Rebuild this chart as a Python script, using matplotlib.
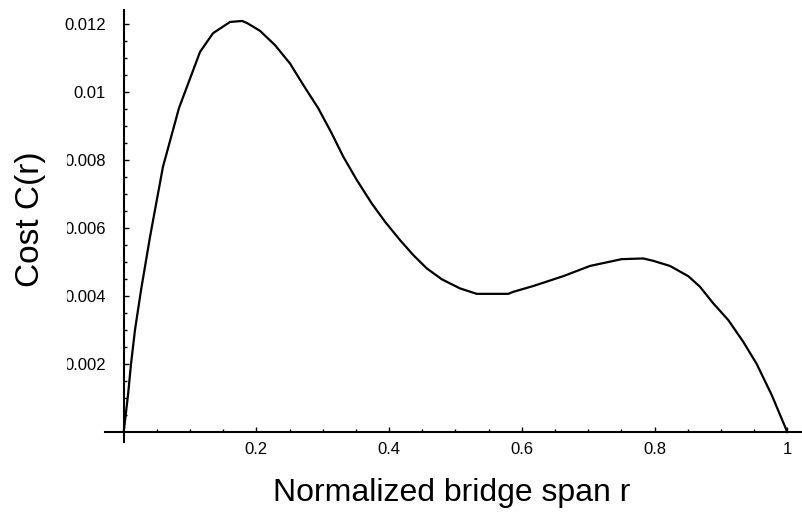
import matplotlib
matplotlib.use("Agg")
import matplotlib.pyplot as plt
from matplotlib.transforms import Bbox, TransformedBbox, IdentityTransform

plt.rcParams['font.family'] = ['Liberation Sans', 'DejaVu Sans']

# Data
r = [0.0, 0.0065, 0.0110, 0.0170, 0.0261, 0.0396, 0.0591, 0.0833, 0.1150, 0.1346,
     0.1602, 0.1783, 0.1858, 0.2054, 0.2280, 0.2506, 0.2706, 0.2933, 0.3134, 0.3309,
     0.3511, 0.3737, 0.3938, 0.4164, 0.4364, 0.4566, 0.4792, 0.5068, 0.5320, 0.5796,
     0.5871, 0.6172, 0.6624, 0.7027, 0.7504, 0.7830, 0.7981, 0.8232, 0.8508, 0.8684,
     0.8885, 0.9111, 0.9337, 0.9539, 0.9765, 1.0]
cost = [0.0, 0.00109, 0.00200, 0.00300, 0.00417, 0.00573, 0.00779, 0.00952, 0.01117, 0.01172,
        0.01205, 0.01208, 0.01202, 0.01179, 0.01137, 0.01083, 0.01020, 0.00951, 0.00878, 0.00809,
        0.00741, 0.00672, 0.00618, 0.00564, 0.00520, 0.00481, 0.00449, 0.00422, 0.00406, 0.00406,
        0.00412, 0.00429, 0.00458, 0.00488, 0.00508, 0.00510, 0.00503, 0.00488, 0.00458, 0.00427,
        0.00378, 0.00329, 0.00265, 0.00200, 0.00109, 0.0]

x_ticks = [0.2, 0.4, 0.6, 0.8, 1.0]
x_tick_labels = ['0.2', '0.4', '0.6', '0.8', '1']
x_minor = [0.05, 0.1, 0.15, 0.25, 0.3, 0.35, 0.45, 0.5, 0.55, 0.65, 0.7, 0.75, 0.85, 0.9, 0.95]
y_ticks = [0.002, 0.004, 0.006, 0.008, 0.010, 0.012]
y_tick_labels = ['0.002', '0.004', '0.006', '0.008', '0.01', '0.012']
y_minor = [0.0005 * k for k in range(1, 25) if k % 4 != 0]

fig = plt.figure(figsize=(8.02, 5.19), dpi=100)
ax = fig.add_axes([105 / 802, 77 / 519, 697 / 802, 432 / 519])

ax.plot(r, cost, color='black', lw=1.6, solid_joinstyle='round')

ax.set_xlim(-0.0282, 1.0222)
ax.set_ylim(-0.000294, 0.012402)

for s in ['top', 'right']:
    ax.spines[s].set_visible(False)
for s in ['left', 'bottom']:
    ax.spines[s].set_position(('data', 0))
    ax.spines[s].set_linewidth(1.5)

ax.set_xticks(x_ticks)
ax.set_xticklabels(x_tick_labels)
ax.set_xticks(x_minor, minor=True)
ax.set_yticks(y_ticks)
ax.set_yticklabels(y_tick_labels)
ax.set_yticks(y_minor, minor=True)

ax.tick_params(which='both', direction='in', color='black', width=1.0, labelsize=12)
ax.tick_params(which='major', length=3.5)
ax.tick_params(which='minor', length=2.2)
ax.tick_params(axis='x', which='major', pad=7.5)
ax.tick_params(axis='y', which='major', pad=13)

# reference crops the left part of the lower y tick labels
clip = TransformedBbox(Bbox([[67, 0], [802, 519]]), IdentityTransform())
for lbl in ax.get_yticklabels():
    if lbl.get_text() in ('0.002', '0.004', '0.006', '0.008'):
        lbl.set_clip_on(True)
        lbl.set_clip_box(clip)

fig.text(452 / 802, 1 - 493 / 519, 'Normalized bridge span r', fontsize=23,
         ha='center', va='center')
fig.text(31 / 802, 1 - 219 / 519, 'Cost C(r)', fontsize=24, rotation=90,
         ha='center', va='center')

fig.savefig('out.png', dpi=100)
